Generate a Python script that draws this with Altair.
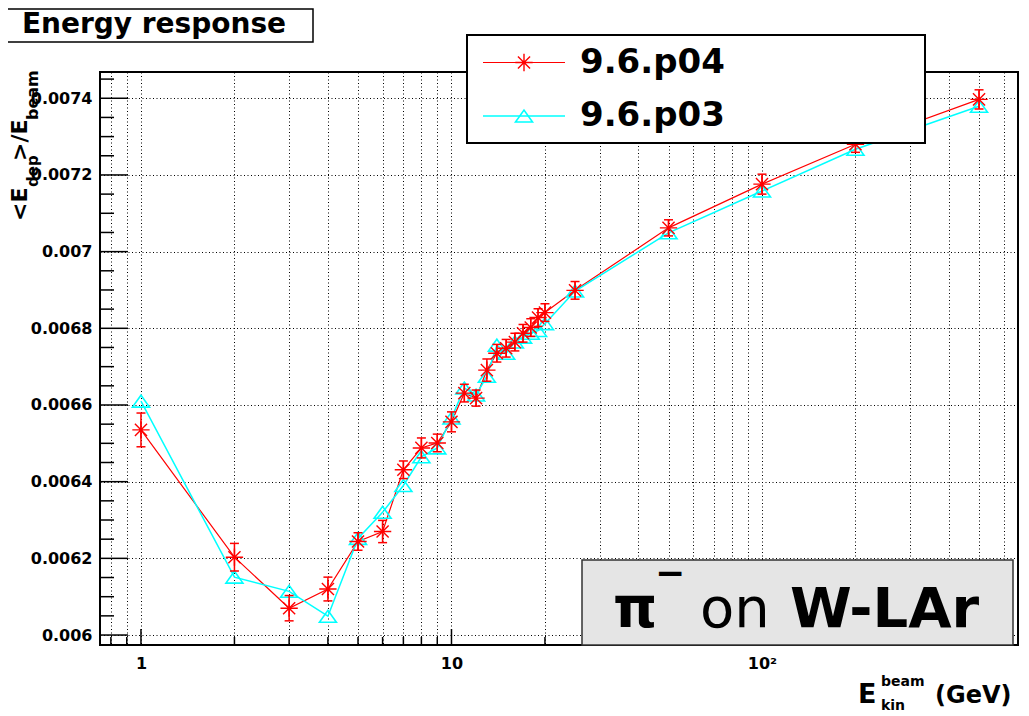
import altair as alt
import pandas as pd

# ---------------- data ----------------
energies = [1, 2, 3, 4, 5, 6, 7, 8, 9, 10, 11, 12, 13, 14, 15, 16, 17, 18, 19, 20, 25, 50, 100, 200, 500]
p04 = [0.006535, 0.006203, 0.006070, 0.006120, 0.006244, 0.006270, 0.006431, 0.006488, 0.006501,
       0.006556, 0.006631, 0.006618, 0.006691, 0.006735, 0.006748, 0.006764, 0.006787, 0.006802,
       0.006828, 0.006841, 0.006899, 0.007062, 0.007176, 0.007280, 0.007397]
p04_err = [0.000044, 0.000036, 0.000033, 0.000031, 0.000023, 0.000029, 0.000023, 0.000026, 0.000023,
           0.000026, 0.000023, 0.000021, 0.000029, 0.000023, 0.000023, 0.000023, 0.000023, 0.000023,
           0.000023, 0.000023, 0.000023, 0.000021, 0.000026, 0.000021, 0.000025]
p03 = [0.006610, 0.006151, 0.006114, 0.006049, 0.006252, 0.006320, 0.006390, 0.006465, 0.006488,
       0.006566, 0.006644, 0.006626, 0.006675, 0.006756, 0.006735, 0.006764, 0.006777, 0.006787,
       0.006794, 0.006812, 0.006897, 0.007049, 0.007158, 0.007267, 0.007379]

series_names = ["9.6.p04", "9.6.p03"]

x_major = [1, 10, 100]
x_minor = [0.8, 0.9, 2, 3, 4, 5, 6, 7, 8, 9, 20, 30, 40, 50, 60, 70, 80, 90, 200, 300, 400, 500, 600]
y_major = [0.0060, 0.0062, 0.0064, 0.0066, 0.0068, 0.0070, 0.0072, 0.0074]
y_minor = [0.00605, 0.00610, 0.00615, 0.00625, 0.00630, 0.00635, 0.00645, 0.00650, 0.00655,
           0.00665, 0.00670, 0.00675, 0.00685, 0.00690, 0.00695, 0.00705, 0.00710, 0.00715,
           0.00725, 0.00730, 0.00735, 0.00745]

# ---------------- tables ----------------
red = pd.DataFrame({"E": energies, "v": p04, "err": p04_err})
red["lo"] = red["v"] - red["err"]
red["hi"] = red["v"] + red["err"]
cyan = pd.DataFrame({"E": energies, "v": p03})
xmaj = pd.DataFrame({"t": x_major})
xmin = pd.DataFrame({"t": x_minor})
ymaj = pd.DataFrame({"t": y_major})
ymin = pd.DataFrame({"t": y_minor})
one = pd.DataFrame({"k": [0]})

W, H = 918, 573
RED = "#ff0000"
CYAN = "#00ffff"
BOLD = "DejaVu Sans"

xs = alt.Scale(type="log", domain=[0.738, 667.5], nice=False)
ys = alt.Scale(domain=[0.005974, 0.0074685], nice=False, zero=False)

STAR = "M-1,0L1,0M0,-1L0,1M-0.7,-0.7L0.7,0.7M-0.7,0.7L0.7,-0.7"
TRI = "M-1,0.7L1,0.7L0,-0.7Z"

x_all = sorted(x_major + x_minor)
x_axis = alt.Axis(values=x_all, grid=True, gridDash=[1, 2.5], gridColor="#000000", gridWidth=1,
                  ticks=False, domain=False, labelFont=BOLD, labelFontWeight="bold", labelFontSize=16,
                  labelColor="#000000", labelPadding=10, labelOverlap=False, labelFlush=False,
                  labelExpr="datum.value == 1 ? '1' : datum.value == 10 ? '10' : datum.value == 100 ? '10²' : ''",
                  title=None)
y_axis = alt.Axis(values=y_major, format=".4~f", grid=True, gridDash=[1, 2.5], gridColor="#000000",
                  gridWidth=1, ticks=False, domain=False, labelFont=BOLD, labelFontWeight="bold",
                  labelFontSize=16, labelColor="#000000", labelPadding=8, labelOverlap=False,
                  labelFlush=False, title=None)


def X(f):
    return alt.X(f, type="quantitative", scale=xs, axis=x_axis)


def Y(f):
    return alt.Y(f, type="quantitative", scale=ys, axis=y_axis)


red_line = alt.Chart(red).mark_line(color=RED, strokeWidth=1.2).encode(
    x=X("E"), y=Y("v"), order="E:Q")
cyan_line = alt.Chart(cyan).mark_line(color=CYAN, strokeWidth=1.5).encode(
    x=X("E"), y=Y("v"), order="E:Q")
cyan_pts = alt.Chart(cyan).mark_point(shape=TRI, size=289, filled=False, color=CYAN,
                                      strokeWidth=1.6, opacity=1).encode(x=X("E"), y=Y("v"))
red_bar = alt.Chart(red).mark_rule(color=RED, strokeWidth=1.5).encode(
    x=X("E"), y=Y("lo"), y2="hi:Q")
red_cap_lo = alt.Chart(red).mark_tick(color=RED, orient="horizontal", size=9, thickness=1.5,
                                      opacity=1).encode(x=X("E"), y=Y("lo"))
red_cap_hi = alt.Chart(red).mark_tick(color=RED, orient="horizontal", size=9, thickness=1.5,
                                      opacity=1).encode(x=X("E"), y=Y("hi"))
red_pts = alt.Chart(red).mark_point(shape=STAR, size=300, filled=False, color=RED,
                                    strokeWidth=1.4, opacity=1).encode(x=X("E"), y=Y("v"))


# ---------------- inward ticks ----------------
def xticks(df, length):
    return alt.Chart(df).mark_rule(color="#000000", strokeWidth=1.5).encode(
        x=X("t"), y=alt.value(H), y2=alt.value(H - length))


def yticks(df, length):
    return alt.Chart(df).mark_rule(color="#000000", strokeWidth=1.5).encode(
        y=Y("t"), x=alt.value(0), x2=alt.value(length))


# ---------------- annotation helpers ----------------
def box(x1, x2, y1, y2, fill, stroke, sw):
    return alt.Chart(one).mark_rect(fill=fill, stroke=stroke, strokeWidth=sw).encode(
        x=alt.value(x1), x2=alt.value(x2), y=alt.value(y1), y2=alt.value(y2))


def txt(s, x, y, size, weight="bold", align="left", baseline="alphabetic", angle=0, font=BOLD):
    kw = dict(text=s, font=font, fontSize=size, fontWeight=weight, align=align,
              baseline=baseline, color="#000000")
    if angle:
        kw["angle"] = angle
    return alt.Chart(one).mark_text(**kw).encode(x=alt.value(x), y=alt.value(y))


def hline(x1, x2, y, color, sw):
    return alt.Chart(one).mark_rule(color=color, strokeWidth=sw).encode(
        x=alt.value(x1), x2=alt.value(x2), y=alt.value(y))


def sym(shape, x, y, color, size, sw):
    return alt.Chart(one).mark_point(shape=shape, size=size, filled=False, color=color,
                                     strokeWidth=sw, opacity=1).encode(x=alt.value(x), y=alt.value(y))


layers = [
    red_line, cyan_line, cyan_pts, red_bar, red_cap_lo, red_cap_hi, red_pts,
    xticks(xmin, 8), xticks(xmaj, 16), yticks(ymin, 14), yticks(ymaj, 28),
    # title box
    box(-101, 213, -63, -30, "#ffffff", "#000000", 1.5),
    txt("Energy response", 54, -47, 28, align="center", baseline="middle"),
    # legend
    box(367, 825, -37, 71, "#ffffff", "#000000", 2),
    hline(383, 465, -9.5, RED, 1.2),
    sym(STAR, 424, -9.5, RED, 300, 1.4),
    txt(series_names[0], 480, -9.5, 34, baseline="middle"),
    hline(383, 465, 44, CYAN, 1.5),
    sym(TRI, 424, 44, CYAN, 289, 1.6),
    txt(series_names[1], 480, 44, 34, baseline="middle"),
    # pi- on W-LAr box
    box(482, 913, 488, 573, "#e5e5e5", "#333333", 1.5),
    txt("π", 513, 555, 56),
    txt("−", 555, 513, 36),
    txt("on", 600, 555, 56, weight="normal"),
    txt("W-LAr", 690, 555, 56),
    # y title  <E_dep>/E_beam
    txt("<E", -73, 149, 22, angle=270),
    txt("dep", -62, 115, 15, angle=270),
    txt(">/E", -73, 89, 22, angle=270),
    txt("beam", -62, 48, 16, angle=270),
    # x title  E_kin^beam (GeV)
    txt("E", 758, 631, 27),
    txt("beam", 781, 614, 14),
    txt("kin", 781, 638, 14),
    txt("(GeV)", 835, 631, 24),
]

chart = alt.layer(*layers).properties(
    width=W, height=H,
    autosize=alt.AutoSizeParams(type="none"),
    padding={"left": 92, "top": 64, "right": 3, "bottom": 71},
    background="#ffffff",
).configure_view(stroke="#000000", strokeWidth=2)

chart.save("out.html", embed_options={"renderer": "svg", "actions": False})
